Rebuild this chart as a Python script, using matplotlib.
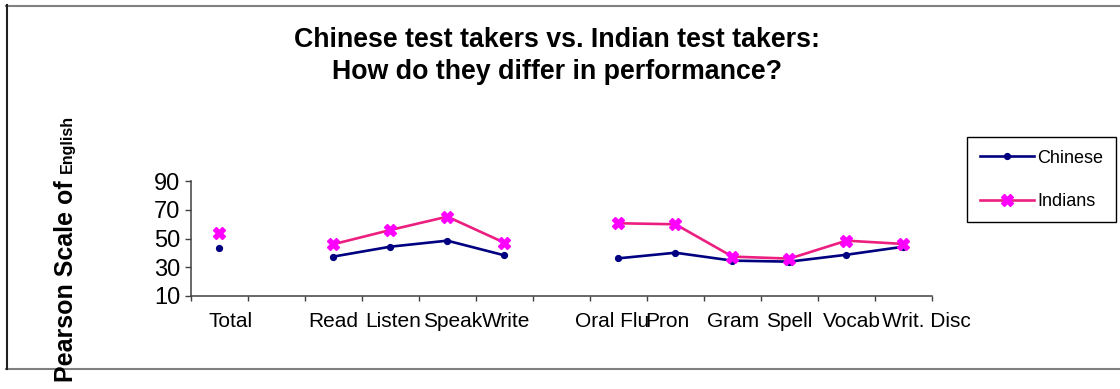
import numpy as np
import matplotlib
matplotlib.use('Agg')
import matplotlib.pyplot as plt
from matplotlib.lines import Line2D

# === Data ===
categories = ['Total', '', 'Read', 'Listen', 'Speak', 'Write', '',
              'Oral Flu', 'Pron', 'Gram', 'Spell', 'Vocab', 'Writ. Disc']
chinese = [43.2, np.nan, 37.4, 44.3, 48.5, 38.3, np.nan,
           36.2, 40.1, 34.6, 33.9, 38.7, 44.3]
indians = [53.6, np.nan, 46.0, 55.9, 65.2, 47.1, np.nan,
           60.6, 59.9, 37.4, 36.0, 48.5, 46.2]
yticks = [10, 30, 50, 70, 90]

# sideways nudge (px) of each category label, like the packed excel labels
label_nudge = [11, 0, 0, 3, 5, 2, 0, -6, -8, 1, 0, 5, 23]

W, H = 1120, 389
plt.rcParams['font.family'] = ['Liberation Sans', 'DejaVu Sans']

fig = plt.figure(figsize=(W / 100, H / 100), dpi=100)

# axes placed in pixel terms of the original
x0, x1 = 190.7, 932.0
ytop, ybot = 181.0, 296.0
ax = fig.add_axes([x0 / W, 1 - ybot / H, (x1 - x0) / W, (ybot - ytop) / H])

x = np.arange(len(categories))
ax.plot(x, chinese, color='#000080', lw=1.9, marker='o', ms=4.2,
        label='Chinese')
ax.plot(x, indians, color='#EC1F80', lw=1.9, marker='X', ms=8.5,
        mfc='#FF00FF', mec='#FF00FF', label='Indians')

ax.set_xlim(-0.5, len(categories) - 0.5)
ax.set_ylim(10, 90)
ax.set_yticks(yticks)
ax.set_xticks(x)
ax.set_xticklabels([])
ax.set_xticks(np.arange(len(categories) + 1) - 0.5, minor=True)
ax.tick_params(axis='x', which='major', length=0)
ax.tick_params(axis='x', which='minor', length=3.8, width=1, color='#404040',
               direction='out')
ax.tick_params(axis='y', length=4.5, width=1, color='#404040', pad=3,
               labelsize=17)

# category labels
for i, cat in enumerate(categories):
    ax.annotate(cat, xy=(i, 0), xycoords=ax.get_xaxis_transform(),
                xytext=(label_nudge[i] * 0.72, -22.3), textcoords='offset points',
                ha='center', va='baseline', fontsize=15)

for s in ['top', 'right']:
    ax.spines[s].set_visible(False)
for s in ['left', 'bottom']:
    ax.spines[s].set_color('#404040')
    ax.spines[s].set_linewidth(1.1)

# === Legend ===
fig.legend(loc='upper left', bbox_to_anchor=(967 / W, 1 - 137 / H),
           fontsize=13, frameon=True, fancybox=False, edgecolor='black',
           framealpha=1, handlelength=3.0, handletextpad=0.2,
           labelspacing=1.45, borderpad=0.7, borderaxespad=0)

# === Title ===
fig.text(557 / W, 1 - 47 / H, 'Chinese test takers vs. Indian test takers:',
         ha='center', va='baseline', fontsize=19.3, fontweight='bold')
fig.text(557 / W, 1 - 79 / H, 'How do they differ in performance?',
         ha='center', va='baseline', fontsize=19.3, fontweight='bold')

# === Y label (big + small part, rotated) ===
fig.text(73 / W, 1 - 180 / H, 'Pearson Scale of', rotation=90,
         rotation_mode='anchor', ha='right', va='baseline',
         fontsize=18, fontweight='bold')
fig.text(72 / W, 1 - 173 / H, 'English', rotation=90,
         rotation_mode='anchor', ha='left', va='baseline',
         fontsize=11.5, fontweight='bold')

# === Chart area frame ===
fig.add_artist(Line2D([6 / W, 1], [1 - 5.5 / H] * 2, color='#808080', lw=1.5))
fig.add_artist(Line2D([6 / W, 1], [1 - 369 / H] * 2, color='#808080', lw=1.5))
fig.add_artist(Line2D([6.5 / W] * 2, [1 - 5 / H, 1 - 369 / H],
                      color='#202020', lw=1.5))

fig.savefig('out.png', dpi=100)
